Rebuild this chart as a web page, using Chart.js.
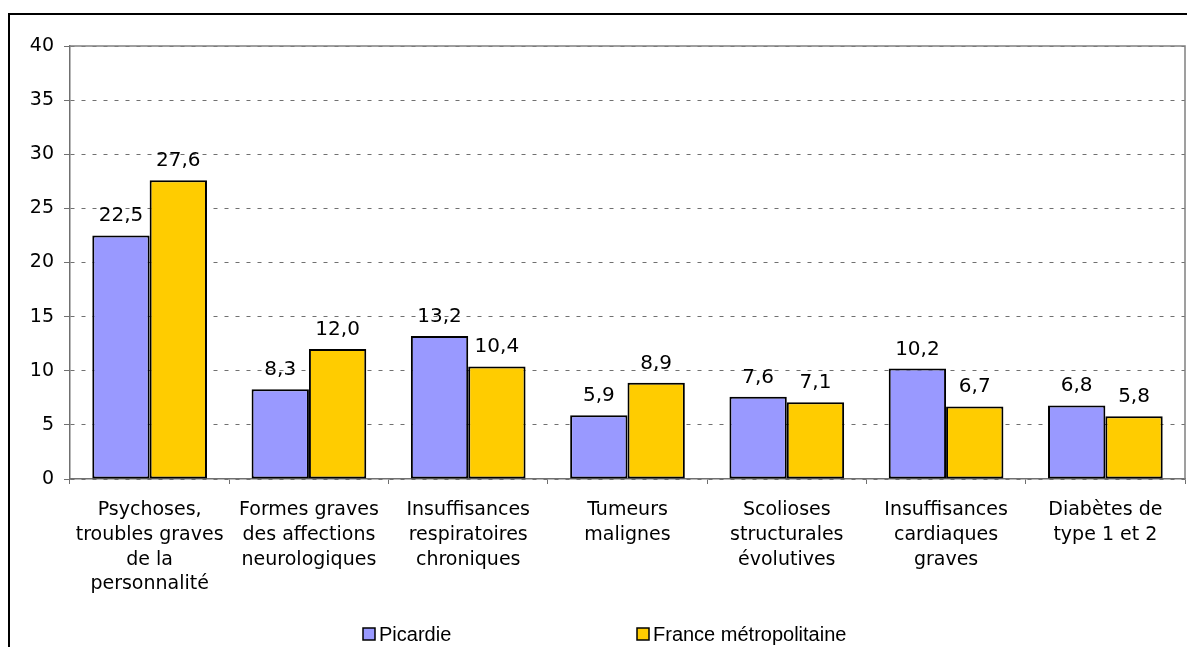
<!DOCTYPE html>
<html lang="fr">
<head>
<meta charset="utf-8">
<script src="https://cdn.jsdelivr.net/npm/chart.js@4.4.0/dist/chart.umd.min.js"></script>
<style>
  html, body { margin: 0; padding: 0; background: #fff; overflow: hidden; }
  #wrap { position: relative; width: 1187px; height: 647px; overflow: hidden; }
  #frame { position: absolute; left: 8px; top: 13px; width: 1200px; height: 700px; border: 2px solid #000; box-sizing: border-box; }
  canvas { position: absolute; left: 0; top: 0; }
</style>
</head>
<body>
<div id="wrap">
  <div id="frame"></div>
  <canvas id="chart" width="1187" height="647"></canvas>
</div>
<script>
const categories = [
  ["Psychoses,", "troubles graves", "de la", "personnalité"],
  ["Formes graves", "des affections", "neurologiques"],
  ["Insuffisances", "respiratoires", "chroniques"],
  ["Tumeurs", "malignes"],
  ["Scolioses", "structurales", "évolutives"],
  ["Insuffisances", "cardiaques", "graves"],
  ["Diabètes de", "type 1 et 2"]
];
const picardie = [22.5, 8.3, 13.2, 5.9, 7.6, 10.2, 6.8];
const france = [27.6, 12.0, 10.4, 8.9, 7.1, 6.7, 5.8];
const seriesNames = ["Picardie", "France métropolitaine"];
const yMin = 0, yMax = 40, yStep = 5;

const axisFont = { family: "DejaVu Sans", size: 19 };

// frame on top and right of the plot area
const plotFrame = {
  id: "plotFrame",
  beforeDatasetsDraw(chart) {
    const { ctx, chartArea: a } = chart;
    ctx.save();
    ctx.strokeStyle = "#808080";
    ctx.lineWidth = 1.5;
    ctx.beginPath();
    ctx.moveTo(a.left, a.top);
    ctx.lineTo(a.right, a.top);
    ctx.lineTo(a.right, a.bottom);
    ctx.stroke();
    ctx.restore();
  }
};

// values above the bars, with a decimal comma
const valueLabels = {
  id: "valueLabels",
  afterDatasetsDraw(chart) {
    const ctx = chart.ctx;
    ctx.save();
    ctx.font = '20px "DejaVu Sans"';
    ctx.fillStyle = "#000";
    ctx.textAlign = "center";
    ctx.textBaseline = "alphabetic";
    chart.data.datasets.forEach((ds, i) => {
      chart.getDatasetMeta(i).data.forEach((bar, j) => {
        ctx.fillText(ds.data[j].toFixed(1).replace(".", ","), bar.x, bar.y - 14);
      });
    });
    ctx.restore();
  }
};

// legend at the bottom, items spread apart like the original
const bottomLegend = {
  id: "bottomLegend",
  afterDraw(chart) {
    const ctx = chart.ctx;
    const xs = [363, 637];
    const boxTop = 628, box = 12;
    ctx.save();
    ctx.font = '20px "Liberation Sans"';
    ctx.textBaseline = "middle";
    ctx.textAlign = "left";
    chart.data.datasets.forEach((ds, i) => {
      const x = xs[i];
      ctx.fillStyle = ds.backgroundColor;
      ctx.fillRect(x, boxTop, box, box);
      ctx.strokeStyle = "#000";
      ctx.lineWidth = 1.5;
      ctx.strokeRect(x, boxTop, box, box);
      ctx.fillStyle = "#000";
      ctx.fillText(ds.label, x + box + 4, boxTop + box / 2 + 1);
    });
    ctx.restore();
  }
};

new Chart(document.getElementById("chart"), {
  type: "bar",
  data: {
    labels: categories,
    datasets: [
      {
        label: seriesNames[0],
        data: picardie,
        backgroundColor: "#9999FF",
        borderColor: "#000",
        borderWidth: 2,
        borderSkipped: false,
        categoryPercentage: 0.72,
        barPercentage: 1
      },
      {
        label: seriesNames[1],
        data: france,
        backgroundColor: "#FFCC00",
        borderColor: "#000",
        borderWidth: 2,
        borderSkipped: false,
        categoryPercentage: 0.72,
        barPercentage: 1
      }
    ]
  },
  options: {
    responsive: false,
    animation: false,
    layout: { padding: { top: 46, right: 2, left: 0, bottom: 0 } },
    plugins: {
      legend: { display: false },
      tooltip: { enabled: false }
    },
    scales: {
      y: {
        min: yMin,
        max: yMax,
        ticks: { stepSize: yStep, color: "#000", font: axisFont, padding: 10 },
        grid: { color: "#707070", lineWidth: 1, tickLength: 6, tickColor: "#707070", tickBorderDash: [] },
        border: { color: "#707070", width: 1.5, dash: [4, 7] },
        afterFit(scale) { scale.width = 70; }
      },
      x: {
        ticks: {
          color: "#000",
          font: { family: "DejaVu Sans", size: 19, lineHeight: 1.3 },
          padding: 14,
          maxRotation: 0,
          autoSkip: false
        },
        grid: { drawOnChartArea: false, tickLength: 5, color: "#707070", offset: true },
        border: { color: "#707070", width: 1.5 },
        afterFit(scale) { scale.height = 168; }
      }
    }
  },
  plugins: [plotFrame, valueLabels, bottomLegend]
});
</script>
</body>
</html>
